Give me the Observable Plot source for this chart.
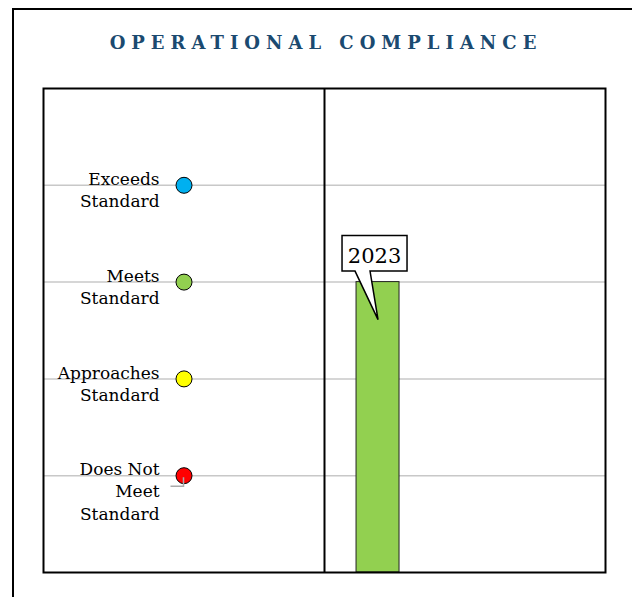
<!DOCTYPE html>
<html>
<head>
<meta charset="utf-8">
<script src="https://cdn.jsdelivr.net/npm/d3@7"></script>
<script src="https://cdn.jsdelivr.net/npm/@observablehq/plot@0.6"></script>
<style>
  html, body { margin: 0; padding: 0; background: #fff; overflow: hidden; }
  #outer { position: absolute; left: 12px; top: 8px; width: 700px; height: 700px;
           border-left: 2px solid #000; border-top: 2px solid #000; }
  #title { position: absolute; left: 16px; width: 620px; top: 32px; text-align: center;
           font-family: "DejaVu Serif", serif; font-weight: bold; font-size: 18px;
           letter-spacing: 6px; color: #1b4a70; white-space: nowrap; }
  #chart { position: absolute; left: 0; top: 0; }
</style>
</head>
<body>
<div id="outer"></div>
<div id="title">OPERATIONAL COMPLIANCE</div>
<div id="chart"></div>
<script>
// ---- data ----
const levelLabels = ["Does Not\nMeet\nStandard", "Approaches\nStandard", "Meets\nStandard", "Exceeds\nStandard"];
const levelValues = [1, 2, 3, 4];
const levelColors = ["#ff0000", "#ffff00", "#92d050", "#00b0f0"];
const years = ["2023"];
const yearValues = [3];
const yearColors = ["#92d050"];

// layout in x-units: left panel [0,1] (legend), right panel [1,2] (bars)
const legendX = 0.5;
const labelX = 0.413;
const barX1 = 1.114, barX2 = 1.267;

const levels = levelValues.map((v, i) => ({value: v, label: levelLabels[i], color: levelColors[i]}));
const bars = years.map((yr, i) => ({year: yr, value: yearValues[i], color: yearColors[i], x1: barX1, x2: barX2}));

const FONT = "DejaVu Serif";

// callout mark for the year label
function callout(data) {
  return (index, scales) => {
    const g = d3.create("svg:g");
    for (const d of data) {
      const cx = (scales.x(d.x1) + scales.x(d.x2)) / 2;
      const top = scales.y(d.value);
      const tipX = cx + 0.5, tipY = top + 38;
      const bx0 = cx - 35.5, bx1 = cx + 29.5, by0 = top - 46, by1 = top - 10.5;
      const p1 = cx - 22.5, p2 = cx - 7.5;
      g.append("path")
        .attr("d", `M${bx0},${by0}H${bx1}V${by1}H${p2}L${tipX},${tipY}L${p1},${by1}H${bx0}Z`)
        .attr("fill", "#fff").attr("stroke", "#000").attr("stroke-width", 1.5)
        .attr("stroke-linejoin", "miter");
      g.append("text")
        .attr("x", (bx0 + bx1) / 2).attr("y", by1 - 8)
        .attr("text-anchor", "middle")
        .attr("font-family", FONT).attr("font-size", 21)
        .text(d.year);
    }
    return g.node();
  };
}

// small leader from the lowest label to its dot
function leader(levelValue) {
  return (index, scales) => {
    const x = scales.x(legendX), y = scales.y(levelValue);
    return d3.create("svg:path")
      .attr("d", `M${x - 13},${y + 11}H${x}V${y + 2}`)
      .attr("fill", "none").attr("stroke", "#aaaaaa").attr("stroke-width", 1.5)
      .node();
  };
}

const chart = Plot.plot({
  width: 632,
  height: 597,
  marginLeft: 43,
  marginRight: 27,
  marginTop: 88,
  marginBottom: 25,
  x: {domain: [0, 2], axis: null},
  y: {domain: [0, 5], axis: null},
  style: {fontFamily: FONT, background: "transparent"},
  marks: [
    Plot.ruleY(levels, {y: "value", stroke: "#c8c8c8", strokeWidth: 1.5}),
    Plot.ruleX([1], {stroke: "#000", strokeWidth: 2}),
    Plot.rect(bars, {x1: "x1", x2: "x2", y1: 0, y2: "value", fill: "color", stroke: "#222", strokeWidth: 1}),
    Plot.dot(levels, {x: () => legendX, y: "value", r: 8, fill: "color", stroke: "#000", strokeWidth: 1}),
    leader(levelValues[0]),
    Plot.text(levels, {x: () => labelX, y: "value", text: "label", textAnchor: "end",
      lineAnchor: "top", lineHeight: 1.3, dy: -16, fontSize: 17, fill: "#000"}),
    callout(bars),
    Plot.frame({stroke: "#000", strokeWidth: 2})
  ]
});
document.getElementById("chart").appendChild(chart);
</script>
</body>
</html>
